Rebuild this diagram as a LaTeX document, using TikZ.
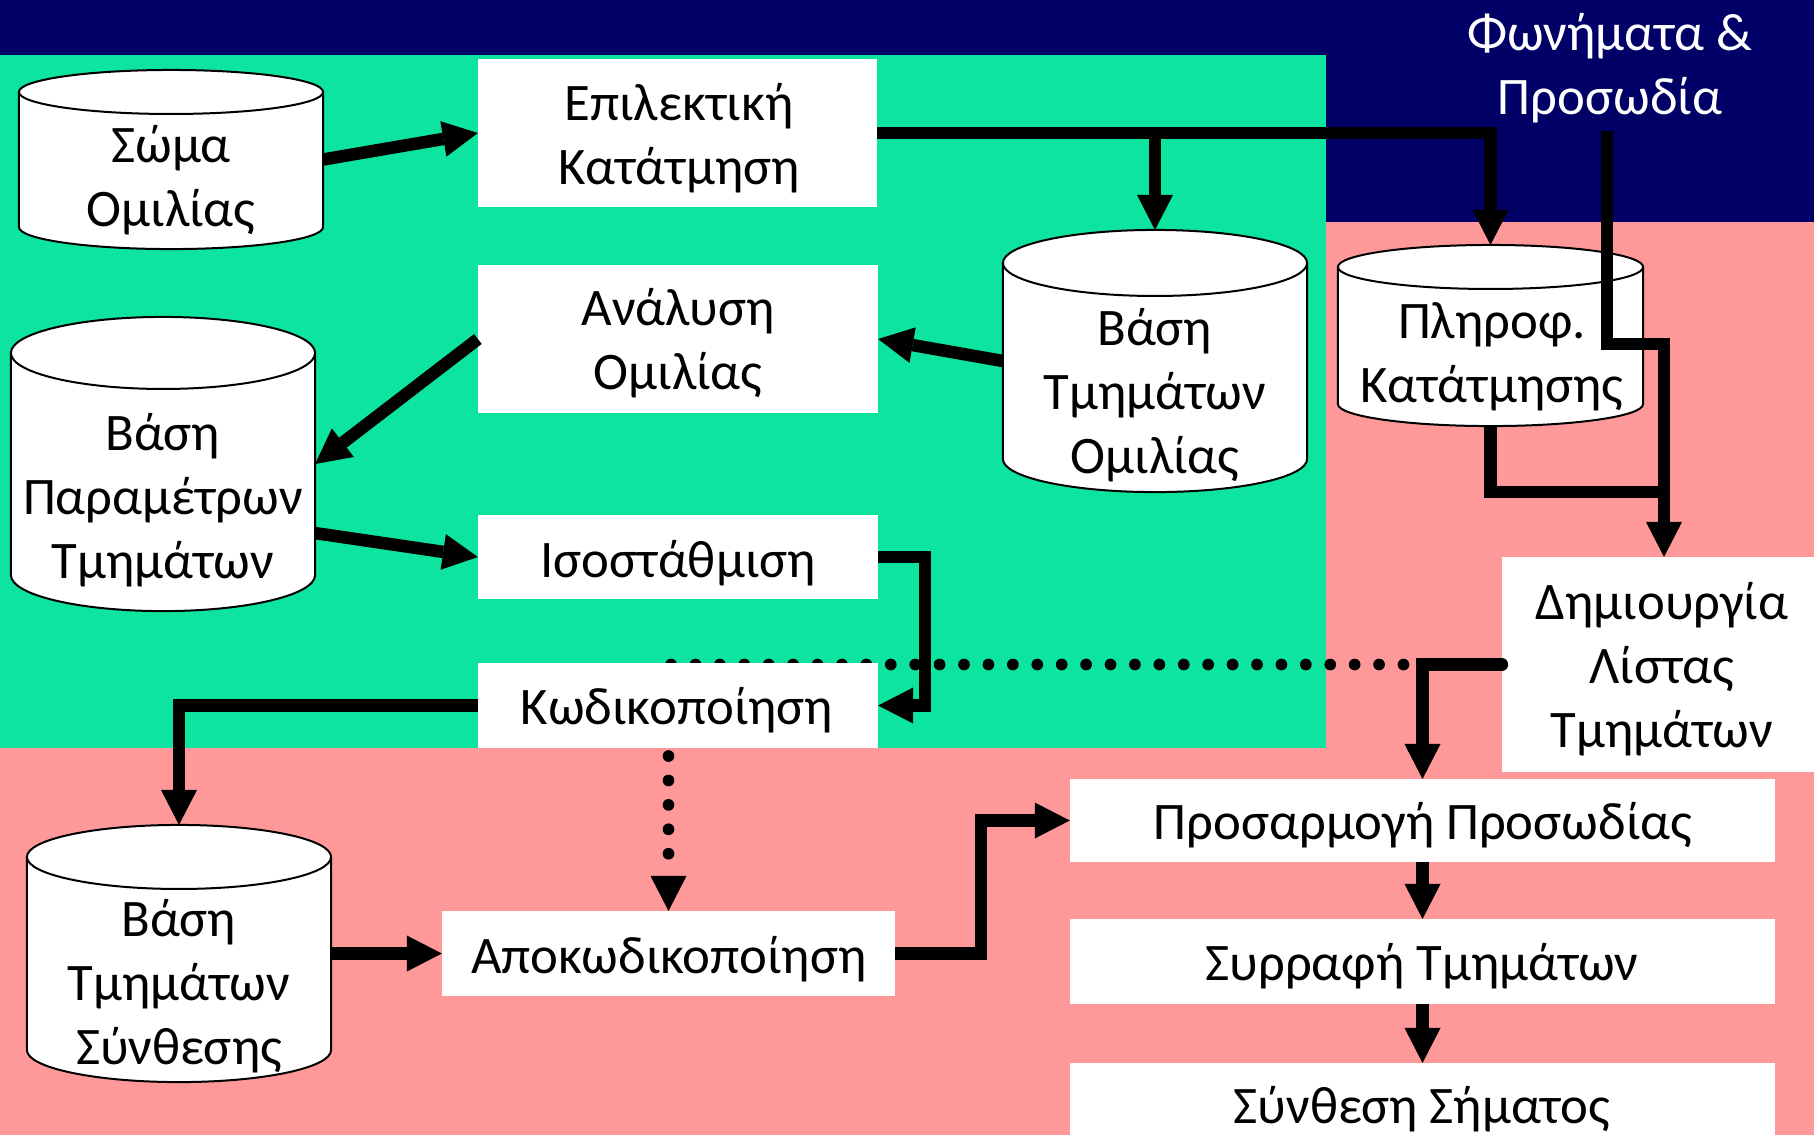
\documentclass[tikz,border=0pt]{standalone}
\usepackage{fontspec}
\setmainfont{Carlito}
\usetikzlibrary{arrows.meta}

\definecolor{navy}{RGB}{0,0,102}
\definecolor{mint}{RGB}{12,228,160}
\definecolor{salmon}{RGB}{255,153,153}

\tikzset{
  box/.style={fill=white, draw=none, inner sep=0pt, outer sep=0pt},
  store/.style={draw=none, inner sep=0pt, outer sep=0pt},
  lbl/.style={inner sep=0pt, outer sep=0pt, anchor=base, yshift=-0.02cm,
              font=\fontsize{15pt}{18.2pt}\selectfont},
  flow/.style={line width=0.125cm, line join=miter},
  arr/.style={flow, -{Triangle[length=0.35cm,width=0.36cm,line width=0pt]}},
  dots/.style={line width=0.117cm, line cap=round, dash pattern=on 0pt off 0.244cm},
  rim/.style={draw=black, fill=white, line width=0.02cm},
}

% multi-line label whose baseline is that of its first line
\newcommand\ml[1]{\begin{tabular}[t]{@{}c@{}}#1\end{tabular}}

% cylinder drawn inside the rectangle of a named node: #1 node, #2 x radius, #3 y radius
\newcommand\drum[3]{%
  \path[rim] ([yshift=-#3]#1.north west) -- ([yshift=#3]#1.south west)
    arc[start angle=180,end angle=360,x radius=#2,y radius=#3]
    -- ([yshift=-#3]#1.north east)
    arc[start angle=0,end angle=180,x radius=#2,y radius=#3] -- cycle;
  \draw[rim, fill=none] ([yshift=-#3]#1.north west)
    arc[start angle=180,end angle=360,x radius=#2,y radius=#3];
}

\begin{document}
\begin{tikzpicture}[x=0.01cm, y=-0.01cm]
\useasboundingbox (0,0) rectangle (1814,1135);
\clip (0,0) rectangle (1814,1135);

% coloured zones
\fill[salmon] (0,0) rectangle (1814,1135);
\fill[mint] (0,55) rectangle (1326,748);
\fill[navy] (0,0) rectangle (1814,55);
\fill[navy] (1326,0) rectangle (1814,222);

% process boxes
\node[box, minimum width=3.99cm, minimum height=1.48cm] (epi)  at (677.5,133) {};
\node[box, minimum width=4.00cm, minimum height=1.48cm] (anal) at (678,339) {};
\node[box, minimum width=4.00cm, minimum height=0.835cm] (iso) at (678,557) {};
\node[box, minimum width=4.53cm, minimum height=0.85cm] (apok) at (668.5,953.5) {};
\node[box, minimum width=3.12cm, minimum height=2.15cm] (dimi) at (1658,664.5) {};
\node[box, minimum width=7.05cm, minimum height=0.83cm] (pros) at (1422.5,820.5) {};
\node[box, minimum width=7.05cm, minimum height=0.85cm] (syr)  at (1422.5,961.5) {};
\node[box, minimum width=7.05cm, minimum height=0.77cm] (syn)  at (1422.5,1101.5) {};

% dotted link running under the coding box
\draw[dots, dash phase=0.054cm] (dimi.west -| pros.north) -- (apok.north |- 0,664.5);
\node[box, minimum width=4.00cm, minimum height=0.85cm] (kod) at (678,705.5) {};

% data stores
\node[store, minimum width=3.04cm, minimum height=1.79cm] (soma)  at (171,159.5) {};
\node[store, minimum width=3.04cm, minimum height=2.94cm] (param) at (163,464) {};
\node[store, minimum width=3.04cm, minimum height=2.62cm] (tmom)  at (1155,361) {};
\node[store, minimum width=3.05cm, minimum height=1.81cm] (plir)  at (1490.5,335.5) {};
\node[store, minimum width=3.04cm, minimum height=2.57cm] (synth) at (179,953.5) {};
\drum{soma}{1.52cm}{0.22cm}
\drum{param}{1.52cm}{0.36cm}
\drum{tmom}{1.52cm}{0.33cm}
\drum{plir}{1.525cm}{0.22cm}
\drum{synth}{1.52cm}{0.32cm}

% labels
\node[lbl] (tSoma)  at (171,160)  {\ml{Σώμα\\Ομιλίας}};
\node[lbl] (tEpi)   at (679,118)  {\ml{Επιλεκτική\\Κατάτμηση}};
\node[lbl] (tAnal)  at (678,323)  {\ml{Ανάλυση\\Ομιλίας}};
\node[lbl] (tParam) at (163,448)  {\ml{Βάση\\Παραμέτρων\\Τμημάτων}};
\node[lbl] (tIso)   at (678,575)  {Ισοστάθμιση};
\node[lbl] (tTmOm)  at (1155,343) {\ml{Βάση\\Τμημάτων\\Ομιλίας}};
\node[lbl] (tPlir)  at (1492,336) {\ml{Πληροφ.\\Κατάτμησης}};
\node[lbl, text=white] (tFon) at (1610,48) {\ml{Φωνήματα \&\\Προσωδία}};
\node[lbl] (tDimi)  at (1662,617) {\ml{Δημιουργία\\Λίστας\\Τμημάτων}};
\node[lbl] (tKod)   at (677,722)  {Κωδικοποίηση};
\node[lbl] (tApok)  at (669,971)  {Αποκωδικοποίηση};
\node[lbl] (tSynth) at (179,934)  {\ml{Βάση\\Τμημάτων\\Σύνθεσης}};
\node[lbl] (tPros)  at (1423,837) {Προσαρμογή Προσωδίας};
\node[lbl] (tSyr)   at (1422,978) {Συρραφή Τμημάτων};
\node[lbl] (tSyn)   at (1422,1121) {Σύνθεση Σήματος};

% connectors
\coordinate (fj) at (1664,344);
\coordinate (fonout) at (1607,131);
\draw[arr] (soma.east) -- (epi.west);
\draw[arr] (anal.west) -- (param.east);
\draw[arr] ([yshift=-0.69cm]param.east) -- (iso.west);
\draw[arr] (epi.east) -| (plir.north);
\draw[arr] (epi.east -| tmom.north) -- (tmom.north);
\draw[arr] (tmom.west) -- (anal.east);
\draw[arr] (fonout) |- (fj) -- (fj |- dimi.north);
\draw[flow] (plir.south) |- (fj |- 0,492);
\draw[arr] (iso.east) -- ++(47,0) |- (kod.east);
\draw[arr] (kod.west) -| (synth.north);
\draw[arr] (synth.east) -- (apok.west);
\draw[arr] (apok.east) -- ++(86,0) |- (pros.west);
\draw[arr, line cap=round] (dimi.west) -| (pros.north);
\draw[arr] (pros.south) -- (syr.north);
\draw[arr] (syr.south) -- (syn.north);
\draw[dots, dash phase=0.164cm, -{Triangle[length=0.35cm,width=0.36cm,line width=0pt]}]
  (kod.south -| apok.north) -- (apok.north);
\end{tikzpicture}
\end{document}
